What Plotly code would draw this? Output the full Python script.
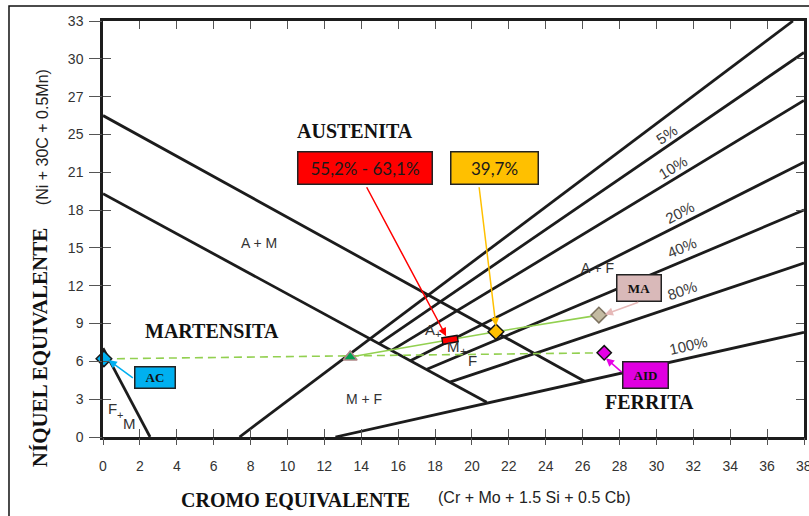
import plotly.graph_objects as go

# ---------------- data ----------------
x_ticks = list(range(0, 39, 2))
y_tick_vals = [0, 3, 6, 9, 12, 15, 18, 21, 24, 27, 30, 33]
y_tick_text = ["0", "3", "6", "9", "12", "15", "18", "21", "25", "27", "30", "33"]

# Schaeffler diagram boundary lines (start / end points)
line_names = ["A/A+M", "A+M/M", "F+M", "0%", "5%", "10%", "20%", "40%", "80%", "100%"]
line_x0 = [0.0, 0.0, 0.0, 7.4, 14.97, 15.64, 16.66, 17.56, 18.8, 12.6]
line_y0 = [25.5, 19.3, 7.05, 0.0, 7.40, 6.87, 6.05, 5.37, 4.35, 0.0]
line_x1 = [26.1, 20.8, 2.55, 37.4, 38.0, 38.0, 38.0, 38.0, 38.0, 38.0]
line_y1 = [4.43, 2.76, 0.0, 33.0, 30.5, 26.7, 21.8, 18.0, 13.8, 8.3]

# ferrite percentage labels
pct_text = ["5%", "10%", "20%", "40%", "80%", "100%"]
pct_x = [30.57, 30.89, 31.27, 31.38, 31.38, 31.7]
pct_y = [23.98, 21.36, 17.78, 15.0, 11.66, 7.29]
pct_angle = [-34, -31, -27, -23, -18.5, -12.6]

# samples
ac_pt = (0.05, 6.2)
tri_pt = (13.4, 6.35)
red_pt = (18.81, 7.71)
orange_pt = (21.3, 8.35)
ma_pt = (26.88, 9.67)
aid_pt = (27.17, 6.68)

# region labels
region_text = ["AUSTENITA", "MARTENSITA", "FERRITA"]
region_x = [13.66, 5.91, 29.6]
region_y = [24.3, 8.4, 2.75]

phase_text = ["A + M", "A + F", "M + F", "A", "+", "M", "+", "F", "F", "+", "M"]
phase_x = [8.46, 26.8, 14.15, 17.75, 18.15, 18.98, 19.53, 20.04, 0.54, 0.92, 1.46]
phase_y = [15.4, 13.4, 3.0, 8.5, 8.2, 7.2, 6.75, 6.1, 2.28, 1.75, 1.09]
phase_size = [14, 14, 14, 15, 11, 15, 12, 15, 15, 11, 15]

fig = go.Figure()

# boundary lines
lx, ly = [], []
for i in range(len(line_names)):
    lx += [line_x0[i], line_x1[i], None]
    ly += [line_y0[i], line_y1[i], None]
fig.add_trace(go.Scatter(x=lx, y=ly, mode="lines",
                         line=dict(color="#1c1c1c", width=2.8),
                         hoverinfo="skip", showlegend=False))

# green dashed line (AC -> AID)
fig.add_trace(go.Scatter(x=[ac_pt[0], aid_pt[0]], y=[ac_pt[1], aid_pt[1]], mode="lines",
                         line=dict(color="#92D050", width=1.6, dash="8px,5px"),
                         showlegend=False))
# green solid line (triangle -> MA)
fig.add_trace(go.Scatter(x=[tri_pt[0], red_pt[0], orange_pt[0], ma_pt[0]],
                         y=[tri_pt[1], red_pt[1], orange_pt[1], ma_pt[1]], mode="lines",
                         line=dict(color="#92D050", width=1.6), showlegend=False))

# red rectangle marker (range)
slope = (ma_pt[1] - tri_pt[1]) / (ma_pt[0] - tri_pt[0])
half_b, half_r = 0.45, 0.38
fig.add_trace(go.Scatter(x=[red_pt[0] - half_b, red_pt[0] + half_b],
                         y=[red_pt[1] - half_b * slope, red_pt[1] + half_b * slope],
                         mode="lines", line=dict(color="#111111", width=8), showlegend=False))
fig.add_trace(go.Scatter(x=[red_pt[0] - half_r, red_pt[0] + half_r],
                         y=[red_pt[1] - half_r * slope, red_pt[1] + half_r * slope],
                         mode="lines", line=dict(color="#FF0000", width=5), showlegend=False))

# markers
def mk(pt, symbol, fill, edge, size):
    fig.add_trace(go.Scatter(x=[pt[0]], y=[pt[1]], mode="markers",
                             marker=dict(symbol=symbol, color=fill, size=size,
                                         line=dict(color=edge, width=1.5)),
                             cliponaxis=False, showlegend=False))

mk(ac_pt, "diamond", "#00B0F0", "#1a1a1a", 12)
mk(tri_pt, "triangle-up", "#00A050", "#B08888", 12)
mk(orange_pt, "diamond", "#FFC000", "#111111", 12)
mk(ma_pt, "diamond", "#C4BBA2", "#7d7260", 12)
mk(aid_pt, "diamond", "#E600E6", "#111111", 11)

ann = []
# percentage labels
for t, x, y, a in zip(pct_text, pct_x, pct_y, pct_angle):
    ann.append(dict(x=x, y=y, text=t, textangle=a, showarrow=False,
                    font=dict(family="Liberation Sans, Arial", size=15, color="#3a3a3a")))
# region labels
for t, x, y in zip(region_text, region_x, region_y):
    ann.append(dict(x=x, y=y, text="<b>%s</b>" % t, showarrow=False,
                    font=dict(family="Liberation Serif, Times New Roman", size=20, color="#111111")))
for t, x, y, s in zip(phase_text, phase_x, phase_y, phase_size):
    ann.append(dict(x=x, y=y, text=t, showarrow=False,
                    font=dict(family="Liberation Sans, Arial", size=s, color="#333333")))

# boxes
def box(x, y, text, fill, w, h, font):
    ann.append(dict(x=x, y=y, text=text, showarrow=False, bgcolor=fill,
                    bordercolor="#222222", borderwidth=1.5, borderpad=1,
                    width=w, height=h, align="center", valign="middle", font=font))

gfont = dict(family="Lato, Open Sans, sans-serif", size=17, color="#1a1a1a")
tfont = dict(family="Liberation Serif, Times New Roman", size=13, color="#111111")
box(14.2, 21.32, "55,2% - 63,1%", "#FF0000", 131, 29, gfont)
box(21.22, 21.32, "39,7%", "#FFC000", 84, 29, gfont)
box(2.82, 4.71, "<b>AC</b>", "#00B0F0", 37, 18, tfont)
box(29.06, 11.8, "<b>MA</b>", "#D9B9B9", 41, 23, tfont)
box(29.43, 4.9, "<b>AID</b>", "#E000E0", 42, 23, tfont)

# arrows
def arrow(tail, head, color):
    ann.append(dict(x=head[0], y=head[1], ax=tail[0], ay=tail[1], axref="x", ayref="y",
                    xref="x", yref="y", text="", showarrow=True, arrowhead=2,
                    arrowsize=1.1, arrowwidth=1.5, arrowcolor=color))

arrow((14.25, 19.93), (18.6, 8.0), "#FF0000")
arrow((20.38, 19.93), (21.3, 8.8), "#FFC000")
arrow((1.70, 4.6), (0.3, 6.1), "#00B0F0")
arrow((29.1, 10.73), (27.2, 9.72), "#E6B9B8")
arrow((28.2, 5.04), (27.26, 6.25), "#E600E6")

# last x tick label (partly outside the page, as in the original)
ann.append(dict(x=x_ticks[-1], xref="x", y=-0.0705, yref="paper", text=str(x_ticks[-1]),
                showarrow=False, xanchor="center", yanchor="middle",
                font=dict(family="Liberation Sans, Arial", size=14, color="#333333")))

# axis titles
ann.append(dict(xref="paper", yref="paper", x=-0.0899, y=0.2158, textangle=-90,
                xanchor="center", yanchor="middle",
                text="<b>NÍQUEL EQUIVALENTE</b>", showarrow=False,
                font=dict(family="Liberation Serif, Times New Roman", size=21, color="#111111")))
ann.append(dict(xref="paper", yref="paper", x=-0.086, y=0.72, textangle=-90,
                xanchor="center", yanchor="middle",
                text="(Ni + 30C + 0.5Mn)", showarrow=False,
                font=dict(family="Liberation Sans, Arial", size=16, color="#222222")))
ann.append(dict(xref="paper", yref="paper", x=0.274, y=-0.152,
                xanchor="center", yanchor="middle",
                text="<b>CROMO EQUIVALENTE</b>", showarrow=False,
                font=dict(family="Liberation Serif, Times New Roman", size=20, color="#111111")))
ann.append(dict(xref="paper", yref="paper", x=0.616, y=-0.145,
                xanchor="center", yanchor="middle",
                text="(Cr + Mo + 1.5 Si + 0.5 Cb)", showarrow=False,
                font=dict(family="Liberation Sans, Arial", size=16, color="#222222")))

fig.update_layout(
    width=809, height=516,
    margin=dict(l=103, r=5, t=21, b=79, autoexpand=False),
    paper_bgcolor="white", plot_bgcolor="white",
    showlegend=False,
    annotations=ann,
    xaxis=dict(range=[0, 38], tickvals=x_ticks, ticks="inside", ticklen=8, tickwidth=1,
               tickcolor="#555555", mirror="ticks", showline=True, linewidth=2.5,
               linecolor="#1c1c1c", showgrid=False, zeroline=False, automargin=False,
               ticklabelstandoff=14,
               tickfont=dict(family="Liberation Sans, Arial", size=14, color="#333333")),
    yaxis=dict(range=[0, 33], tickvals=y_tick_vals, ticktext=y_tick_text, ticks="inside",
               ticklen=8, tickwidth=1, tickcolor="#555555", mirror="ticks", showline=True,
               linewidth=2.5, linecolor="#1c1c1c", showgrid=False, zeroline=False,
               automargin=False, ticklabelstandoff=14,
               tickfont=dict(family="Liberation Sans, Arial", size=14, color="#333333")),
    xaxis2=dict(overlaying="x", anchor="y", side="bottom", range=[0, 38], tickvals=x_ticks,
                ticks="outside", ticklen=7, tickcolor="#555555", showticklabels=False,
                showgrid=False, zeroline=False, showline=False, automargin=False),
    yaxis2=dict(overlaying="y", anchor="x", side="left", range=[0, 33], tickvals=y_tick_vals,
                ticks="outside", ticklen=13, tickcolor="#555555", showticklabels=False,
                showgrid=False, zeroline=False, showline=False, automargin=False),
    shapes=[dict(type="rect", xref="paper", yref="paper", x0=-0.1341, x1=1.02,
                 y0=-0.3, y1=1.036, line=dict(color="#111111", width=1.5),
                 fillcolor="rgba(0,0,0,0)", layer="below")],
)

# dummy traces to activate overlay axes
fig.add_trace(go.Scatter(x=[None], y=[None], xaxis="x2", yaxis="y2", showlegend=False))

fig.write_html("out.html", config={"displayModeBar": False},
               post_script="document.body.style.margin='0px';")
